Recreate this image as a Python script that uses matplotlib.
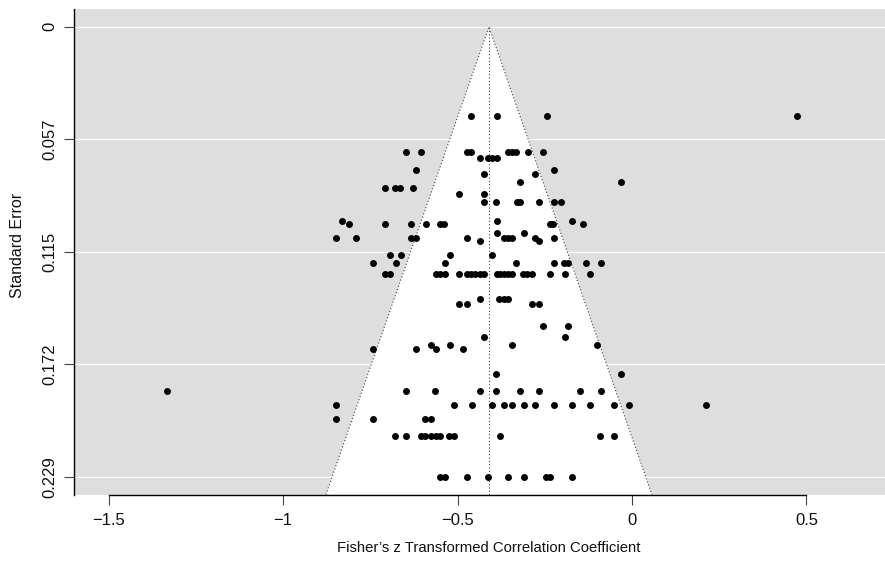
import matplotlib
matplotlib.use('Agg')
from matplotlib import pyplot as plt  # noqa
import numpy as np

# standard error of each row of studies, and the Fisher z values in that row
se_rows = [0.0454, 0.0636, 0.0667, 0.0731, 0.0750, 0.0789, 0.0823, 0.0852,
           0.0891, 0.0988, 0.1005, 0.1052, 0.1077, 0.1091, 0.1163, 0.1205,
           0.1259, 0.1387, 0.1412, 0.1524, 0.1582, 0.1621, 0.1643, 0.1769,
           0.1855, 0.1924, 0.2000, 0.2085, 0.2292]
z_rows = [
    [-0.460, -0.388, -0.244, 0.472],
    [-0.648, -0.604, -0.474, -0.462, -0.354, -0.344, -0.333, -0.298, -0.256],
    [-0.436, -0.412, -0.400, -0.388],
    [-0.618, -0.223],
    [-0.424, -0.277],
    [-0.321, -0.031],
    [-0.709, -0.678, -0.665, -0.627],
    [-0.497, -0.424],
    [-0.424, -0.389, -0.330, -0.321, -0.266, -0.223, -0.203],
    [-0.830, -0.388, -0.172],
    [-0.810, -0.709, -0.632, -0.590, -0.550, -0.539, -0.235, -0.226, -0.141],
    [-0.388, -0.310],
    [-0.848, -0.792, -0.632, -0.619, -0.472, -0.367, -0.354, -0.343, -0.277, -0.223],
    [-0.436, -0.266],
    [-0.693, -0.662, -0.522, -0.400],
    [-0.741, -0.677, -0.537, -0.332, -0.223, -0.195, -0.183, -0.131, -0.090],
    [-0.709, -0.693, -0.562, -0.550, -0.537, -0.497, -0.472, -0.460, -0.449,
     -0.436, -0.424, -0.388, -0.378, -0.367, -0.355, -0.344, -0.311, -0.300,
     -0.287, -0.235, -0.193, -0.120],
    [-0.436, -0.380, -0.367, -0.354],
    [-0.497, -0.472, -0.287, -0.266],
    [-0.256, -0.183],
    [-0.424, -0.193],
    [-0.577, -0.522, -0.343, -0.101],
    [-0.741, -0.618, -0.562, -0.484],
    [-0.389, -0.031],
    [-1.332, -0.648, -0.564, -0.436, -0.389, -0.321, -0.266, -0.149, -0.090],
    [-0.848, -0.510, -0.459, -0.400, -0.367, -0.343, -0.309, -0.277, -0.223,
     -0.172, -0.120, -0.051, -0.010, 0.213],
    [-0.848, -0.741, -0.592, -0.577],
    [-0.678, -0.648, -0.605, -0.592, -0.577, -0.562, -0.550, -0.523, -0.510,
     -0.378, -0.091, -0.051],
    [-0.550, -0.537, -0.472, -0.412, -0.354, -0.310, -0.246, -0.235, -0.172],
]
pooled = -0.41
se_ticks = [0, 0.0573, 0.1146, 0.1719, 0.2292]
se_labels = ['0', '0.057', '0.115', '0.172', '0.229']
x_ticks = [-1.5, -1, -0.5, 0, 0.5]
x_labels = ['\u22121.5', '\u22121', '\u22120.5', '0', '0.5']

plt.rcParams['font.family'] = ['Liberation Sans', 'DejaVu Sans']

se = np.concatenate([[s] * len(zs) for s, zs in zip(se_rows, z_rows)])
z = np.concatenate(z_rows)

fig = plt.figure(figsize=(8.85, 5.61), dpi=100)
ax = fig.add_axes([74 / 885, 66.4 / 561, 1 - 74 / 885, 485.6 / 561])
ax.set_facecolor('#dedede')

ylo, yhi = -0.0091, 0.2383
ax.set_xlim(-1.599, 0.725)
ax.set_ylim(yhi, ylo)

for t in se_ticks:
    ax.axhline(t, color='white', lw=0.9, zorder=1)

# funnel
half = 1.96 * yhi
ax.fill([pooled, pooled - half, pooled + half], [0, yhi, yhi],
        color='white', zorder=2, lw=0)
ax.plot([pooled - half, pooled, pooled + half], [yhi, 0, yhi],
        ls=(0, (1, 2)), color='#444444', lw=0.8, zorder=3)
ax.plot([pooled, pooled], [0, yhi], ls=(0, (1, 2)), color='#444444',
        lw=0.8, zorder=3)

ax.plot(z, se, 'o', color='black', ms=5, mew=0, zorder=4)

ax.set_yticks(se_ticks)
ax.set_yticklabels(se_labels, rotation=90, va='center')
ax.set_xticks(x_ticks)
ax.set_xticklabels(x_labels)
ax.tick_params(axis='both', length=7, width=0.8, color='#444444',
               labelsize=12, labelcolor='#111111')
ax.tick_params(axis='x', pad=6)
ax.tick_params(axis='y', pad=5)

for side in ['top', 'right']:
    ax.spines[side].set_visible(False)
ax.spines['left'].set_linewidth(1.0)
ax.spines['bottom'].set_linewidth(1.0)
ax.spines['bottom'].set_bounds(-1.5, 0.5)

ax.set_xlabel('Fisher\u2019s z Transformed Correlation Coefficient',
              fontsize=10.75, color='#111111')
ax.set_ylabel('Standard Error', fontsize=11.5, color='#111111')
ax.xaxis.set_label_coords(0.512, -0.095)
ax.yaxis.set_label_coords(-0.06, 0.514)

fig.savefig('out.png', dpi=100)
